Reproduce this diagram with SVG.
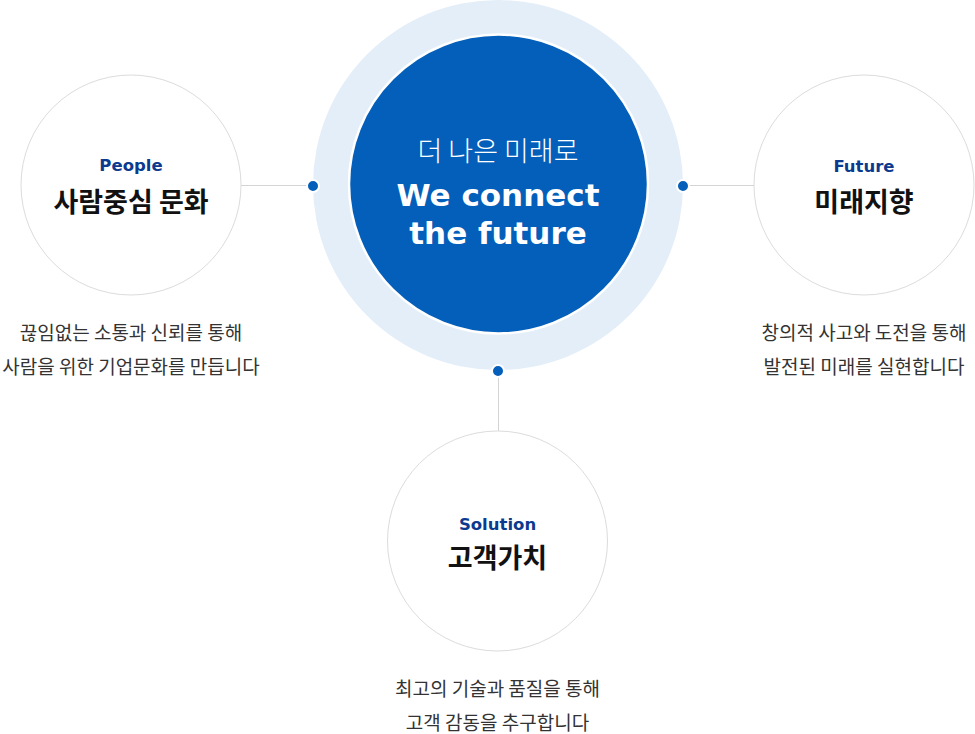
<svg xmlns="http://www.w3.org/2000/svg" width="975" height="734" viewBox="0 0 975 734">
<style>
.node-ring{fill:#fff;stroke:#dcdcdc;stroke-width:1}
.conn{stroke:#d4d4d4;stroke-width:1;fill:none}
.dot{fill:#045fba;stroke:#fff;stroke-width:2}
.en{font-family:"DejaVu Sans",Inter,sans-serif;font-weight:700;font-size:16.5px;fill:#0c3a8e;text-anchor:middle}
.ko{font-family:"Noto Sans CJK KR","Noto Sans",sans-serif;font-weight:700;font-size:27px;fill:#111;text-anchor:middle}
.desc{font-family:"Noto Sans CJK KR","Noto Sans",sans-serif;font-weight:400;font-size:19px;fill:#333;text-anchor:middle}
</style>
<rect width="975" height="734" fill="#fff"/>
<g id="connectors">
<line class="conn" x1="241" y1="185.5" x2="350" y2="185.5"/>
<line class="conn" x1="647" y1="185.5" x2="754" y2="185.5"/>
<line class="conn" x1="498.5" y1="332" x2="498.5" y2="431"/>
</g>
<g id="center">
<circle cx="498" cy="185" r="185" fill="#e3eef8"/>
<circle cx="498.5" cy="184" r="149.5" fill="#045fba" stroke="#fff" stroke-width="2.5"/>
<text x="498" y="161" font-family="'Noto Sans CJK KR',sans-serif" font-weight="300" font-size="27" fill="#fff" text-anchor="middle">더 나은 미래로</text>
<text x="498" y="206" font-family="'DejaVu Sans',Inter,sans-serif" font-weight="700" font-size="31" fill="#fff" text-anchor="middle">We connect</text>
<text x="498" y="244" font-family="'DejaVu Sans',Inter,sans-serif" font-weight="700" font-size="31" fill="#fff" text-anchor="middle">the future</text>
</g>
<g id="dots">
<circle class="dot" cx="313" cy="186" r="6"/>
<circle class="dot" cx="683" cy="186" r="6"/>
<circle class="dot" cx="498" cy="371" r="6"/>
</g>
<g id="people">
<circle class="node-ring" cx="131" cy="185" r="110"/>
<text class="en" x="131" y="171">People</text>
<text class="ko" x="131" y="212">사람중심 문화</text>
<text class="desc" x="131" y="340">끊임없는 소통과 신뢰를 통해</text>
<text class="desc" x="131" y="374">사람을 위한 기업문화를 만듭니다</text>
</g>
<g id="future">
<circle class="node-ring" cx="864" cy="185" r="110"/>
<text class="en" x="864" y="172">Future</text>
<text class="ko" x="864" y="212">미래지향</text>
<text class="desc" x="864" y="340">창의적 사고와 도전을 통해</text>
<text class="desc" x="864" y="374">발전된 미래를 실현합니다</text>
</g>
<g id="solution">
<circle class="node-ring" cx="497.5" cy="541" r="110"/>
<text class="en" x="497.5" y="530">Solution</text>
<text class="ko" x="497.5" y="568">고객가치</text>
<text class="desc" x="497.5" y="696">최고의 기술과 품질을 통해</text>
<text class="desc" x="497.5" y="730">고객 감동을 추구합니다</text>
</g>
</svg>
